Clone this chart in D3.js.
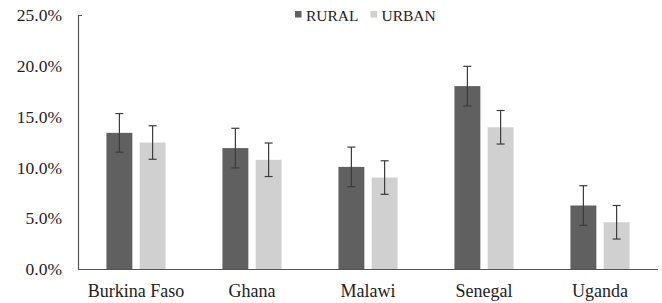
<!DOCTYPE html>
<html>
<head>
<meta charset="utf-8">
<script src="https://cdn.jsdelivr.net/npm/d3@7"></script>
<style>
  html, body { margin: 0; padding: 0; background: #fff; }
</style>
</head>
<body>
<div id="chart"></div>
<script>
// values (percent)
var countries = ["Burkina Faso", "Ghana", "Malawi", "Senegal", "Uganda"];
var series = ["RURAL", "URBAN"];
var rural = [13.4, 11.9, 10.05, 18.0, 6.25];
var urban = [12.45, 10.75, 9.0, 13.95, 4.6];
var ruralErr = [1.9, 1.95, 1.95, 1.95, 1.95];
var urbanErr = [1.65, 1.65, 1.65, 1.65, 1.65];
var yTicks = [0, 5, 10, 15, 20, 25];
var colors = { RURAL: "#606060", URBAN: "#d0d0d0" };

(function () {
  var W = 662, H = 303;
  var left = 78, right = 658, top = 15, bottom = 269;

  var rows = countries.map(function (c, i) {
    return { c: c, vals: [
      { s: "RURAL", v: rural[i], e: ruralErr[i] },
      { s: "URBAN", v: urban[i], e: urbanErr[i] }
    ] };
  });

  var svg = d3.select("#chart").append("svg")
    .attr("width", W).attr("height", H);

  var y = d3.scaleLinear().domain([0, 25]).range([bottom, top]);
  var x0 = d3.scaleBand().domain(countries).range([left, right])
    .paddingInner(0.49).paddingOuter(0.245);
  var x1 = d3.scaleBand().domain(series).range([0, x0.bandwidth()])
    .paddingInner(0.22);

  // y axis labels
  var yAxis = svg.append("g").attr("transform", "translate(" + left + ",0)")
    .call(d3.axisLeft(y).tickValues(yTicks).tickSize(0).tickPadding(16)
      .tickFormat(function (d) { return d.toFixed(1) + "%"; }));
  yAxis.select(".domain").remove();
  yAxis.selectAll("text").attr("class", "lab").attr("font-size", 17.5);

  // bars
  var groups = svg.append("g").selectAll("g").data(rows).join("g")
    .attr("transform", function (d) { return "translate(" + x0(d.c) + ",0)"; });
  groups.selectAll("rect").data(function (d) { return d.vals; }).join("rect")
    .attr("x", function (d) { return x1(d.s); })
    .attr("width", x1.bandwidth())
    .attr("y", function (d) { return y(d.v); })
    .attr("height", function (d) { return bottom - y(d.v); })
    .attr("fill", function (d) { return colors[d.s]; });

  // error bars
  var eb = groups.selectAll("g.err").data(function (d) { return d.vals; }).join("g")
    .attr("class", "err")
    .attr("stroke", "#3c3c3c").attr("stroke-width", 1.2);
  function cx(d) { return x1(d.s) + x1.bandwidth() / 2; }
  eb.append("line")
    .attr("x1", cx).attr("x2", cx)
    .attr("y1", function (d) { return y(d.v + d.e); })
    .attr("y2", function (d) { return y(d.v - d.e); });
  eb.append("line")
    .attr("x1", function (d) { return cx(d) - 4; }).attr("x2", function (d) { return cx(d) + 4; })
    .attr("y1", function (d) { return y(d.v + d.e); })
    .attr("y2", function (d) { return y(d.v + d.e); });
  eb.append("line")
    .attr("x1", function (d) { return cx(d) - 4; }).attr("x2", function (d) { return cx(d) + 4; })
    .attr("y1", function (d) { return y(d.v - d.e); })
    .attr("y2", function (d) { return y(d.v - d.e); });

  // axis lines
  svg.append("line").attr("x1", left + 0.5).attr("x2", left + 0.5)
    .attr("y1", top).attr("y2", bottom)
    .attr("stroke", "#555").attr("stroke-width", 1.2);
  svg.append("line").attr("x1", left).attr("x2", left + 4)
    .attr("y1", top + 0.5).attr("y2", top + 0.5)
    .attr("stroke", "#555").attr("stroke-width", 1);
  svg.append("line").attr("x1", left).attr("x2", right)
    .attr("y1", bottom + 0.5).attr("y2", bottom + 0.5)
    .attr("stroke", "#555").attr("stroke-width", 1.2);

  // category labels
  svg.append("g").selectAll("text").data(countries).join("text")
    .attr("class", "lab")
    .attr("x", function (d) { return x0(d) + x0.bandwidth() / 2; })
    .attr("y", 297)
    .attr("text-anchor", "middle")
    .attr("font-size", 18)
    .text(function (d) { return d; });

  // legend
  var legX = [295, 370.5];
  var leg = svg.append("g").selectAll("g").data(series).join("g")
    .attr("transform", function (d, i) { return "translate(" + legX[i] + ",0)"; });
  leg.append("rect").attr("x", 0).attr("y", 11).attr("width", 6.5).attr("height", 6.5)
    .attr("fill", function (d) { return colors[d]; });
  leg.append("text").attr("class", "lab").attr("x", 11).attr("y", 20.5)
    .attr("font-size", 15.5)
    .text(function (d) { return d; });

  // font on every text element directly
  svg.selectAll("text.lab")
    .attr("font-family", "'Liberation Serif', monospace")
    .attr("fill", "#222");
})();
</script>
</body>
</html>
